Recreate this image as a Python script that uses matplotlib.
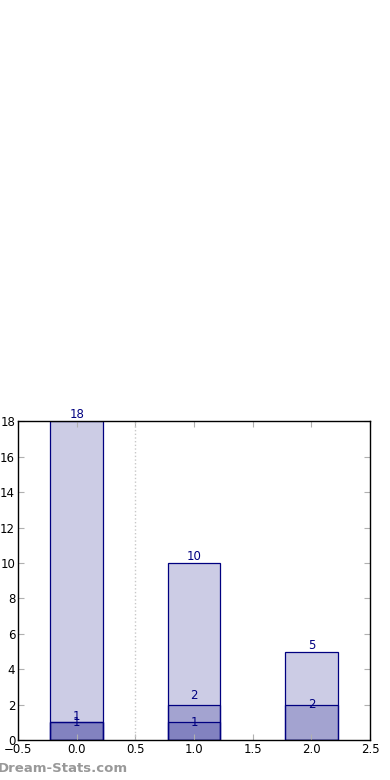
import matplotlib
matplotlib.use("Agg")
import matplotlib.pyplot as plt

# data
positions = [0, 1, 2]
series_a = [18, 10, 5]
series_b = [1, 2, 2]
series_c = [1, 1, 0]
label_dy_b = [0.35, 0.5, 0.0]
label_dy_c = [0.0, 0.0, 0.0]

fig = plt.figure(figsize=(3.9, 7.8), dpi=100)
ax = fig.add_axes([0.046, 0.051, 0.903, 0.409])

for vals in (series_a, series_b, series_c):
	ax.bar(positions, vals, width=0.45, color="navy", alpha=0.2)
	ax.bar(positions, vals, width=0.45, fill=False, edgecolor="navy", linewidth=0.9)

for x, h in zip(positions, series_a):
	ax.text(x, h, str(h), ha="center", va="bottom", color="navy", fontsize=8.5)
for x, h, dy in zip(positions, series_b, label_dy_b):
	if h:
		ax.text(x, h + dy, str(h), ha="center", va="center", color="navy", fontsize=8.5)
for x, h, dy in zip(positions, series_c, label_dy_c):
	if h:
		ax.text(x, h + dy, str(h), ha="center", va="center", color="navy", fontsize=8.5)

ax.axvline(0.5, color="#c8c8c8", linestyle=":", linewidth=1)

ax.set_xlim(-0.5, 2.5)
ax.set_ylim(0, 18)
ax.set_xticks([-0.5, 0, 0.5, 1, 1.5, 2, 2.5])
ax.set_yticks(range(0, 19, 2))
ax.tick_params(direction="in", length=4, color="#b0b0b0", labelsize=8.5,
	top=True, right=True, pad=2)
for sp in ax.spines.values():
	sp.set_linewidth(1)

fig.text(-0.005, 0.01, "Dream-Stats.com", color="#999999", fontsize=9.5, fontweight="bold")

fig.savefig("out.png", dpi=100)
